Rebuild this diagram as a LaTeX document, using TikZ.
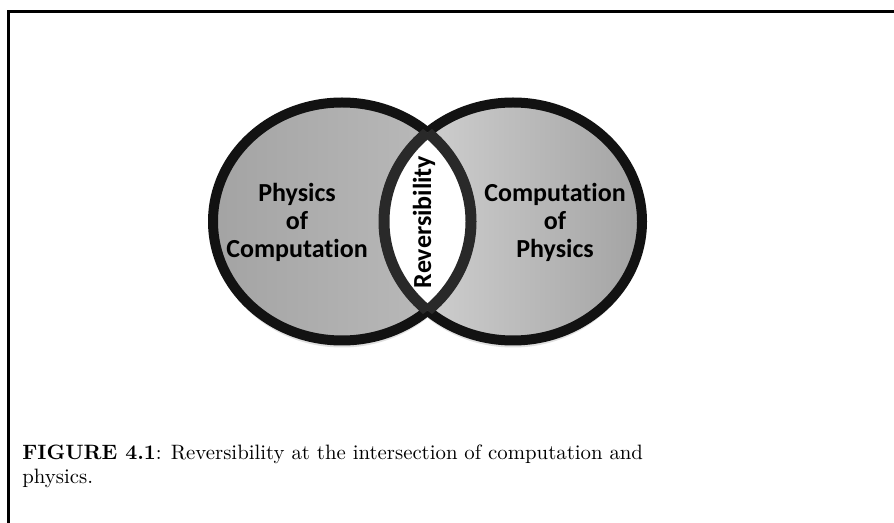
\documentclass[tikz,border=0pt]{standalone}
\usepackage{fontspec}
\newfontfamily\vennfont{Carlito}[Ligatures=NoCommon]
\usetikzlibrary{positioning}

\begin{document}
\begin{tikzpicture}[x=0.5pt, y=0.5pt,
  ring/.style={draw=black!93, line width=5pt},
  lensrim/.style={draw=black!84, line width=5.5pt},
  venntext/.style={align=center, inner sep=0pt, font=\vennfont\bfseries\fontsize{13}{14}\selectfont}]
  \useasboundingbox (0,0) rectangle (894,-523);
  \draw[line width=1.35pt] (8.7,-540) -- (8.7,-11.3) -- (910,-11.3);

  \coordinate (lc) at (342,-221.5);
  \coordinate (rc) at (513,-221.5);

  \fill[black!12] ([yshift=-3pt]lc) ellipse [x radius=65pt, y radius=60pt];
  \fill[black!12] ([yshift=-3pt]rc) ellipse [x radius=65pt, y radius=60pt];
  \shade[left color=black!36, right color=black!26] (lc) ellipse [x radius=64.5pt, y radius=59.5pt];
  \shade[left color=black!16, right color=black!36] (rc) ellipse [x radius=64.5pt, y radius=59.5pt];
  \path[ring] (lc) ellipse [x radius=64.5pt, y radius=59.5pt];
  \path[ring] (rc) ellipse [x radius=64.5pt, y radius=59.5pt];

  \begin{scope}
    \clip (lc) ellipse [x radius=64.5pt, y radius=59.5pt];
    \fill[white] (rc) ellipse [x radius=64.5pt, y radius=59.5pt];
    \path[lensrim] (rc) ellipse [x radius=64.5pt, y radius=59.5pt];
  \end{scope}
  \begin{scope}
    \clip (rc) ellipse [x radius=64.5pt, y radius=59.5pt];
    \path[lensrim] (lc) ellipse [x radius=64.5pt, y radius=59.5pt];
  \end{scope}

  \node[venntext] (poc) at (297,-222) {Physics\\of\\Computation};
  \node[venntext] (cop) at (555,-222) {Computation\\of\\Physics};
  \node[venntext, rotate=90] (rev) at (424,-222) {Reversibility};

  \node[anchor=north west, align=left, inner sep=0pt, font=\fontsize{10.4}{12}\selectfont] (cap) at (22,-444)
    {\textbf{FIGURE 4.1}: Reversibility at the intersection of computation and\\physics.};
\end{tikzpicture}
\end{document}
